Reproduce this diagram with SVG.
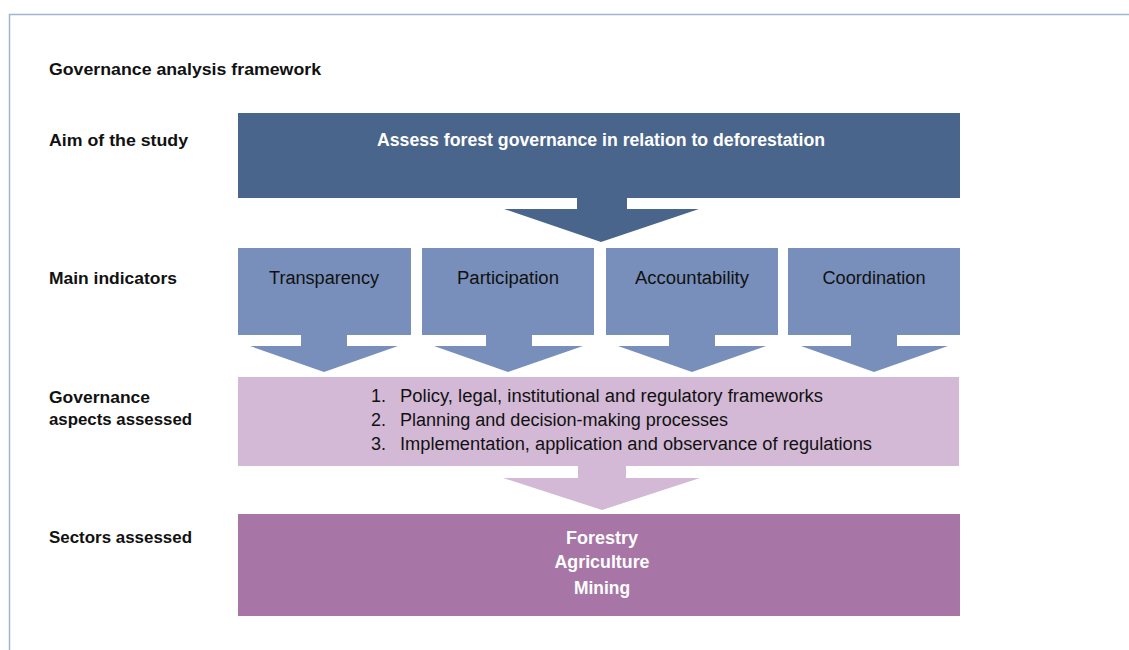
<svg xmlns="http://www.w3.org/2000/svg" width="1129" height="650" viewBox="0 0 1129 650">
<style>
.lbl{font-family:"Liberation Sans",Arial,sans-serif;font-weight:bold;font-size:17px;fill:#111}
.wb{font-family:"Liberation Sans",Arial,sans-serif;font-weight:bold;font-size:18px;fill:#fff;text-anchor:middle}
.ind{font-family:"Liberation Sans",Arial,sans-serif;font-size:18px;fill:#111;text-anchor:middle}
.lst{font-family:"Liberation Sans",Arial,sans-serif;font-size:18px;fill:#111}
.dark{fill:#4a658c}.mid{fill:#778fba}.light{fill:#d3b9d6}.purple{fill:#a776a6}
</style>
<rect width="1129" height="650" fill="#fff"/>
<path d="M9.5 650 V14.5 H1129" fill="none" stroke="#a3b3d1" stroke-width="1.5"/>
<g id="labels">
<text class="lbl" x="49" y="75" textLength="272" lengthAdjust="spacingAndGlyphs">Governance analysis framework</text>
<text class="lbl" x="49" y="146" textLength="139" lengthAdjust="spacingAndGlyphs">Aim of the study</text>
<text class="lbl" x="49" y="284" textLength="128" lengthAdjust="spacingAndGlyphs">Main indicators</text>
<text class="lbl" x="49" y="403" textLength="101" lengthAdjust="spacingAndGlyphs">Governance</text>
<text class="lbl" x="49" y="425" textLength="143" lengthAdjust="spacingAndGlyphs">aspects assessed</text>
<text class="lbl" x="49" y="543" textLength="143" lengthAdjust="spacingAndGlyphs">Sectors assessed</text>
</g>
<g id="connectors">
<polygon class="dark" points="577,197 627,197 627,209 699,209 601,242 504,209 577,209"/>
<polygon class="mid" points="301,334 347,334 347,346 398,346 324,372 250,346 301,346"/>
<polygon class="mid" points="486,334 532,334 532,346 583,346 508,372 434,346 486,346"/>
<polygon class="mid" points="669,334 715,334 715,346 766,346 692,372 618,346 669,346"/>
<polygon class="mid" points="851,334 897,334 897,346 948,346 874,372 801,346 851,346"/>
<polygon class="light" points="578,465 626,465 626,478 700,478 602,510 503,478 578,478"/>
</g>
<g id="aim">
<rect class="dark" x="238" y="113" width="722" height="85"/>
<text class="wb" x="601" y="146" textLength="448" lengthAdjust="spacingAndGlyphs">Assess forest governance in relation to deforestation</text>
</g>
<g id="transparency">
<rect class="mid" x="238" y="248" width="173" height="87"/>
<text class="ind" x="324" y="284" textLength="110" lengthAdjust="spacingAndGlyphs">Transparency</text>
</g>
<g id="participation">
<rect class="mid" x="422" y="248" width="172" height="87"/>
<text class="ind" x="508" y="284" textLength="102" lengthAdjust="spacingAndGlyphs">Participation</text>
</g>
<g id="accountability">
<rect class="mid" x="606" y="248" width="172" height="87"/>
<text class="ind" x="692" y="284" textLength="114" lengthAdjust="spacingAndGlyphs">Accountability</text>
</g>
<g id="coordination">
<rect class="mid" x="788" y="248" width="172" height="87"/>
<text class="ind" x="874" y="284" textLength="103" lengthAdjust="spacingAndGlyphs">Coordination</text>
</g>
<g id="aspects">
<rect class="light" x="238" y="377" width="721" height="89"/>
<text class="lst" x="371" y="402">1.</text>
<text class="lst" x="400" y="402" textLength="423" lengthAdjust="spacingAndGlyphs">Policy, legal, institutional and regulatory frameworks</text>
<text class="lst" x="371" y="426">2.</text>
<text class="lst" x="400" y="426" textLength="328" lengthAdjust="spacingAndGlyphs">Planning and decision-making processes</text>
<text class="lst" x="371" y="450">3.</text>
<text class="lst" x="400" y="450" textLength="472" lengthAdjust="spacingAndGlyphs">Implementation, application and observance of regulations</text>
</g>
<g id="sectors">
<rect class="purple" x="238" y="514" width="722" height="102"/>
<text class="wb" x="602" y="544" textLength="72" lengthAdjust="spacingAndGlyphs">Forestry</text>
<text class="wb" x="602" y="568" textLength="95" lengthAdjust="spacingAndGlyphs">Agriculture</text>
<text class="wb" x="602" y="594" textLength="56" lengthAdjust="spacingAndGlyphs">Mining</text>
</g>
</svg>
